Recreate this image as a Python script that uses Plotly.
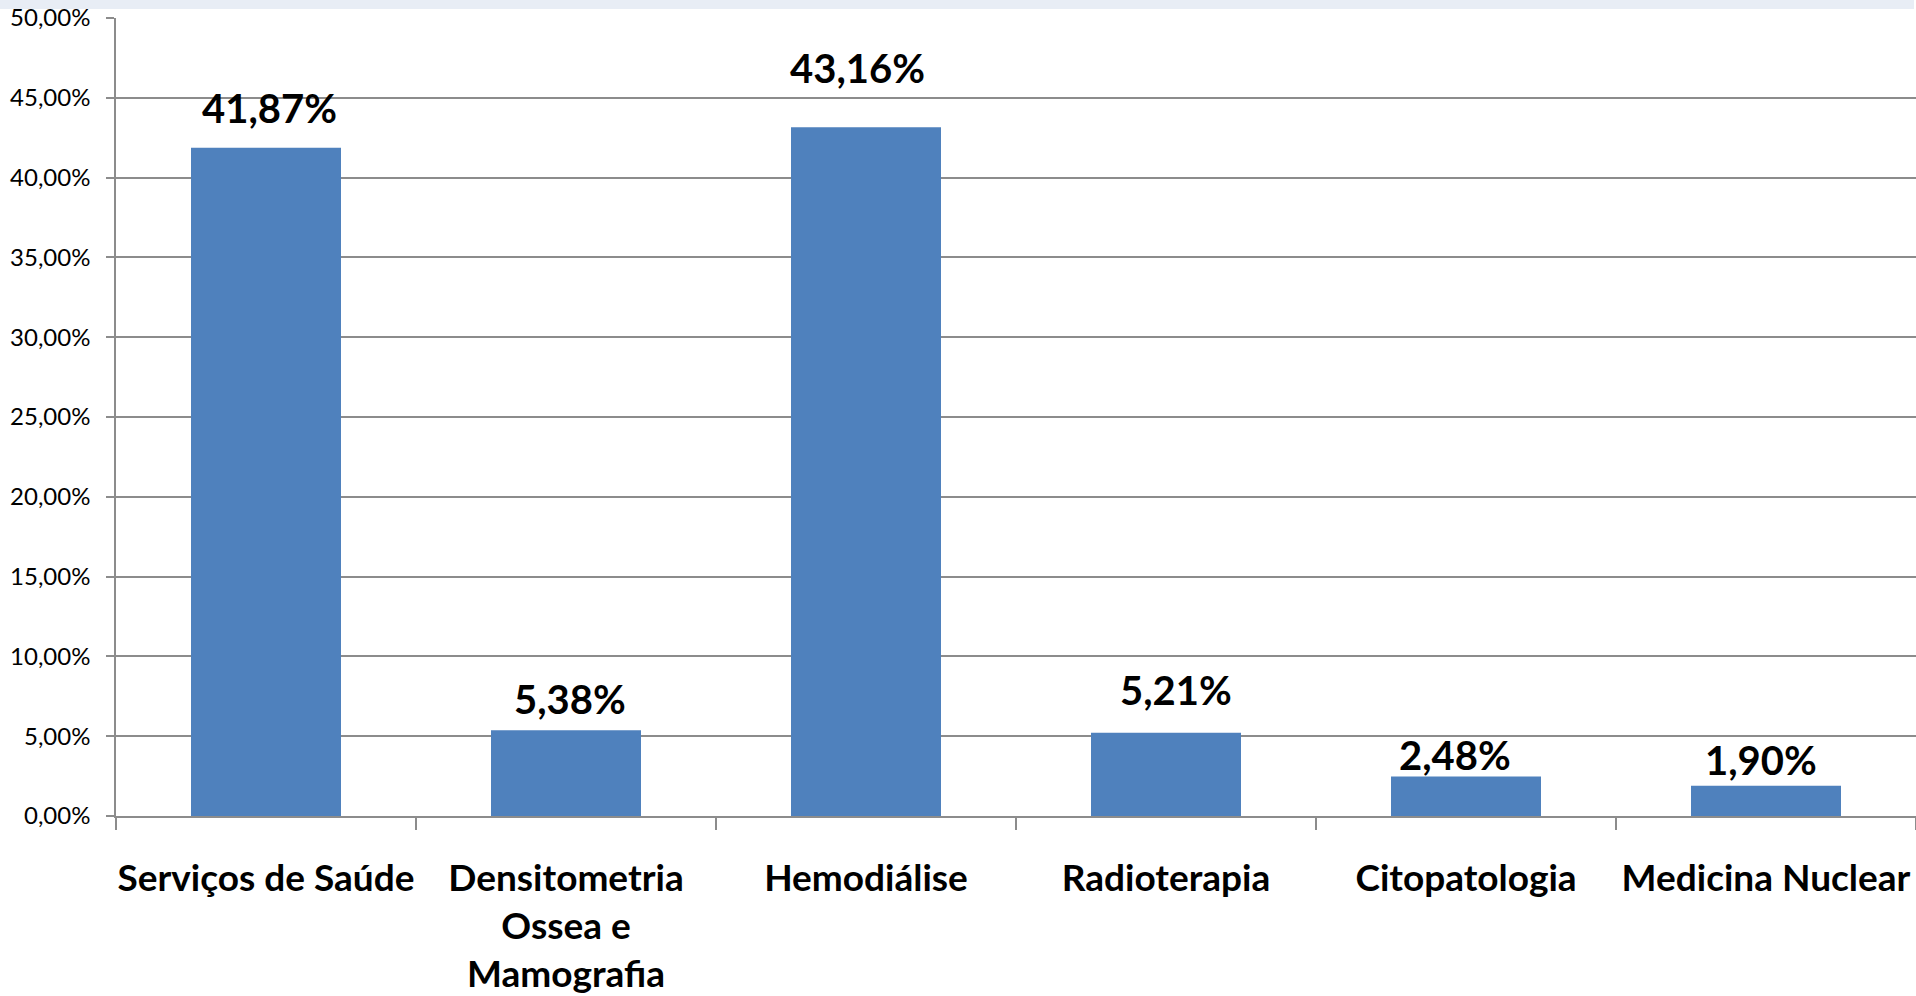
import plotly.graph_objects as go

# Share of procedures by specialty (percent)
categories = [
    "Serviços de Saúde",
    "Densitometria<br>Ossea e<br>Mamografia",
    "Hemodiálise",
    "Radioterapia",
    "Citopatologia",
    "Medicina Nuclear",
]
values = [41.87, 5.38, 43.16, 5.21, 2.48, 1.90]
y_ticks = [0, 5, 10, 15, 20, 25, 30, 35, 40, 45, 50]

# Manual nudges for each data label (pixels): baseline gap above the bar, horizontal shift
label_gap = [25, 16, 44, 28, 6, 11]
label_dx = [3, 4, -9, 10, -11, -5]

BAR = "#4F81BD"
GRID = "#8c8c8c"
FONT = "Lato"

W, H = 1916, 996
ML, MR, MT, MB = 116, 0, 18, 180

shares = [v / 100 for v in values]

fig = go.Figure(
    go.Bar(
        x=categories,
        y=shares,
        marker=dict(color=BAR, line=dict(width=0)),
        hoverinfo="skip",
    )
)

for cat, share, v, gap, dx in zip(categories, shares, values, label_gap, label_dx):
    fig.add_annotation(
        x=cat,
        y=share,
        text=f"{v:.2f}%".replace(".", ","),
        showarrow=False,
        xanchor="center",
        yanchor="bottom",
        yshift=gap - 11,
        xshift=dx,
        font=dict(family=FONT, size=40, color="#000000", weight="bold"),
    )

# thin pale band along the top edge of the page
plot_h = H - MT - MB
fig.add_shape(
    type="rect",
    xref="paper",
    yref="paper",
    x0=-ML / (W - ML - MR),
    x1=(W - ML - 2) / (W - ML - MR),
    y0=1 + (MT - 9) / plot_h,
    y1=1 + MT / plot_h,
    fillcolor="#e8edf5",
    line=dict(width=0),
    layer="below",
)

fig.update_layout(
    width=W,
    height=H,
    margin=dict(l=ML, r=MR, t=MT, b=MB),
    paper_bgcolor="#ffffff",
    plot_bgcolor="#ffffff",
    separators=",.",
    bargap=0.5,
    showlegend=False,
    font=dict(family=FONT, color="#000000"),
    xaxis=dict(
        type="category",
        range=[-0.5, 5.5],
        tickson="boundaries",
        ticks="outside",
        ticklen=12,
        tickwidth=1.5,
        tickcolor=GRID,
        showline=True,
        linecolor=GRID,
        linewidth=1.5,
        showgrid=False,
        tickangle=0,
        tickfont=dict(family=FONT, size=37, color="#000000", weight="bold"),
        ticklabelstandoff=29,
        fixedrange=True,
    ),
    yaxis=dict(
        range=[0, 0.5],
        tickvals=[t / 100 for t in y_ticks],
        tickformat=".2%",
        ticks="outside",
        ticklen=8,
        tickwidth=1.5,
        tickcolor=GRID,
        showline=True,
        linecolor=GRID,
        linewidth=1.5,
        showgrid=True,
        gridcolor=GRID,
        gridwidth=1.5,
        zeroline=False,
        tickfont=dict(family=FONT, size=24, color="#000000"),
        ticklabelstandoff=11,
        fixedrange=True,
    ),
)

fig.write_html("out.html", config={"displayModeBar": False})
